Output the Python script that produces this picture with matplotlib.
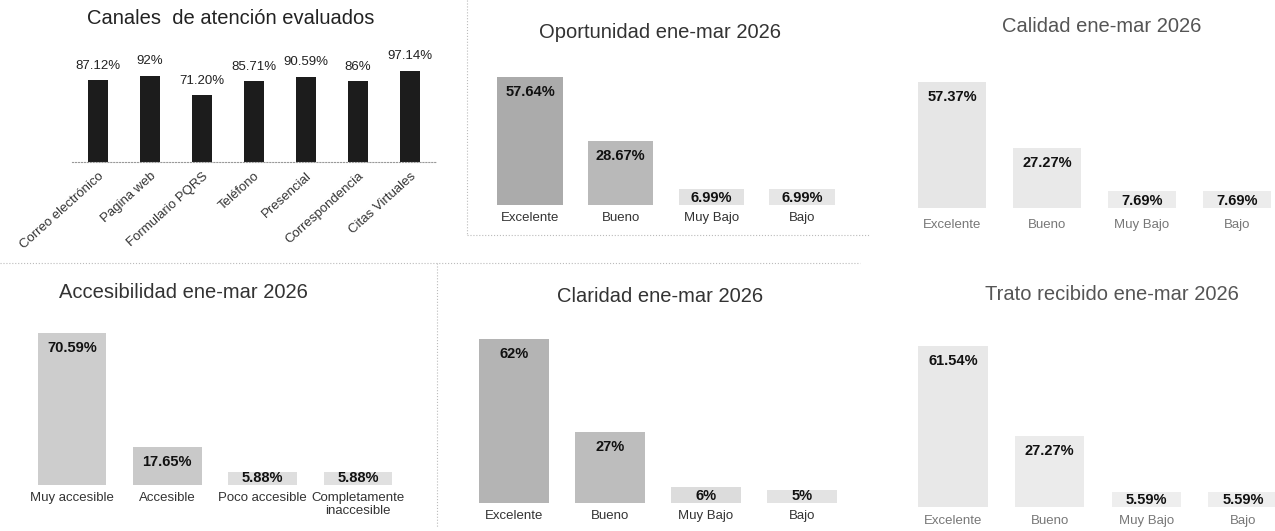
import matplotlib
matplotlib.use("Agg")
import matplotlib.pyplot as plt
from matplotlib.lines import Line2D

plt.rcParams['font.family'] = ['Liberation Sans', 'DejaVu Sans']

W, H = 1275, 531

# --- data ---
canales = ["Correo electrónico", "Pagina web", "Formulario PQRS", "Teléfono",
           "Presencial", "Correspondencia", "Citas Virtuales"]
canales_vals = [87.12, 92, 71.20, 85.71, 90.59, 86, 97.14]
canales_txt = ["87.12%", "92%", "71.20%", "85.71%", "90.59%", "86%", "97.14%"]

niveles = ["Excelente", "Bueno", "Muy Bajo", "Bajo"]
oportunidad_vals = [57.64, 28.67, 6.99, 6.99]
oportunidad_txt = ["57.64%", "28.67%", "6.99%", "6.99%"]
calidad_vals = [57.37, 27.27, 7.69, 7.69]
calidad_txt = ["57.37%", "27.27%", "7.69%", "7.69%"]

acceso_cats = ["Muy accesible", "Accesible", "Poco accesible", "Completamente\ninaccesible"]
acceso_vals = [70.59, 17.65, 5.88, 5.88]
acceso_txt = ["70.59%", "17.65%", "5.88%", "5.88%"]

claridad_vals = [62, 27, 6, 5]
claridad_txt = ["62%", "27%", "6%", "5%"]
trato_vals = [61.54, 27.27, 5.59, 5.59]
trato_txt = ["61.54%", "27.27%", "5.59%", "5.59%"]

fig = plt.figure(figsize=(W / 100, H / 100), dpi=100)
fig.patch.set_facecolor("white")


def make_axes(c0, c1, n, base, scale, ymax):
    # place an axes in pixel coords so bar centres land at c0..c1
    step = (c1 - c0) / (n - 1)
    left = c0 - step / 2
    right = c1 + step / 2
    ax = fig.add_axes([left / W, 1 - base / H, (right - left) / W, ymax * scale / H])
    ax.set_xlim(-0.5, n - 0.5)
    ax.set_ylim(0, ymax)
    ax.patch.set_alpha(0)
    for s in ax.spines.values():
        s.set_visible(False)
    ax.set_yticks([])
    return ax


def rating_panel(c0, c1, base, scale, cats, vals, txt, colors, title, tx, ty,
                 tcolor="#333333", lcolor="#333333", pad=5):
    n = len(vals)
    ax = make_axes(c0, c1, n, base, scale, 100)
    ax.bar(range(n), vals, width=0.72, color=colors, edgecolor="none")
    for i, (v, t) in enumerate(zip(vals, txt)):
        h = v * scale
        yc = max(h - 15, 7) / scale
        ax.text(i, yc, t, ha="center", va="center", fontsize=10.5,
                fontweight="bold", color="#111111")
    ax.set_xticks(range(n))
    ax.set_xticklabels(cats, fontsize=9.5, color=lcolor, linespacing=1.15)
    ax.tick_params(axis="x", length=0, pad=pad)
    fig.text(tx / W, 1 - ty / H, title, ha="center", va="center",
             fontsize=14.5, color=tcolor)
    return ax


# --- panel 1: canales ---
ax1 = make_axes(98, 410, len(canales), 162, 0.94, 100)
ax1.bar(range(len(canales)), canales_vals, width=0.38, color="#1c1c1c")
for i, t in enumerate(canales_txt):
    ax1.text(i, canales_vals[i] + 9, t, ha="center", va="bottom",
             fontsize=9.5, color="#222222")
ax1.spines["bottom"].set_visible(True)
ax1.spines["bottom"].set_linestyle(":")
ax1.spines["bottom"].set_color("#999999")
ax1.set_xticks(range(len(canales)))
ax1.set_xticklabels(canales, rotation=42, ha="right", rotation_mode="anchor",
                    fontsize=9.5, color="#333333")
ax1.tick_params(axis="x", length=0, pad=6)
fig.text(231 / W, 1 - 18 / H, "Canales  de atención evaluados", ha="center",
         va="center", fontsize=14.5, color="#222222")

# --- rating panels ---
rating_panel(530, 802, 205, 2.22, niveles, oportunidad_vals, oportunidad_txt,
             ["#ababab", "#b9b9b9", "#e2e2e2", "#e6e6e6"],
             "Oportunidad ene-mar 2026", 660, 33)
rating_panel(952, 1237, 208, 2.2, niveles, calidad_vals, calidad_txt,
             ["#e6e6e6", "#e9e9e9", "#ececec", "#ececec"],
             "Calidad ene-mar 2026", 1102, 27, tcolor="#555555",
             lcolor="#777777", pad=8)
rating_panel(72, 358, 485, 2.15, acceso_cats, acceso_vals, acceso_txt,
             ["#cdcdcd", "#c9c9c9", "#dedede", "#e0e0e0"],
             "Accesibilidad ene-mar 2026", 183, 292)
rating_panel(514, 802, 503, 2.64, niveles, claridad_vals, claridad_txt,
             ["#b4b4b4", "#bdbdbd", "#dcdcdc", "#e3e3e3"],
             "Claridad ene-mar 2026", 660, 297)
rating_panel(953, 1243, 507, 2.62, niveles, trato_vals, trato_txt,
             ["#e8e8e8", "#ebebeb", "#eeeeee", "#eeeeee"],
             "Trato recibido ene-mar 2026", 1112, 295, tcolor="#555555",
             lcolor="#777777", pad=6)

# faint dotted panel borders from the scanned page
border = dict(color="#bbbbbb", linestyle=":", linewidth=0.8)
fig.add_artist(Line2D([467 / W, 467 / W], [1 - 0 / H, 1 - 235 / H], **border))
fig.add_artist(Line2D([467 / W, 870 / W], [1 - 235 / H, 1 - 235 / H], **border))
fig.add_artist(Line2D([0, 860 / W], [1 - 263 / H, 1 - 263 / H], **border))
fig.add_artist(Line2D([437 / W, 437 / W], [1 - 263 / H, 1 - 528 / H], **border))

fig.savefig("out.png", dpi=100, facecolor="white")
